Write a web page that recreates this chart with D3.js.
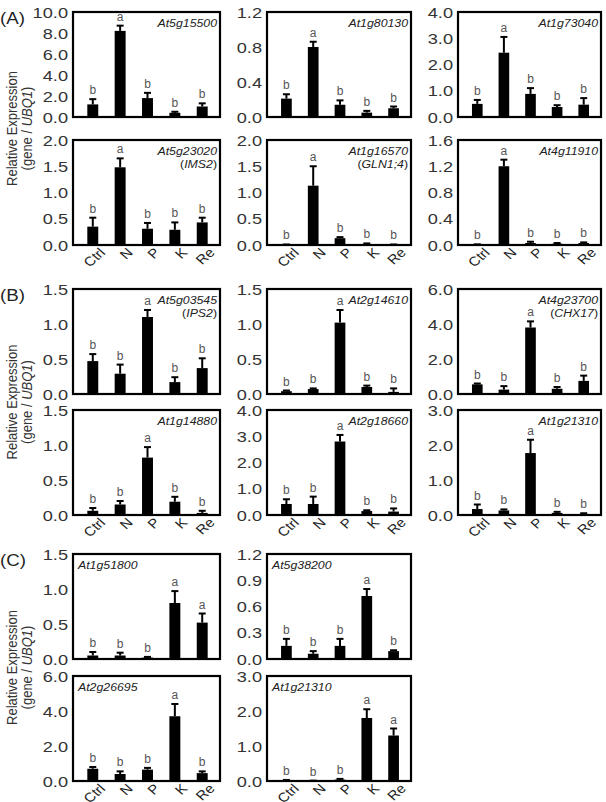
<!DOCTYPE html>
<html>
<head>
<meta charset="utf-8">
<script src="https://cdn.jsdelivr.net/npm/d3@7"></script>
<style>
  body { margin: 0; background: #fff; }
  text { font-family: "Liberation Sans", Arial, sans-serif; }
</style>
</head>
<body>
<script>
// treatments on the x axis
var categories = ["Ctrl", "N", "P", "K", "Re"];

// one entry per panel, in reading order (A: 6, B: 6, C: 4)
var genes = ["At5g15500", "At1g80130", "At1g73040", "At5g23020", "At1g16570", "At4g11910",
             "At5g03545", "At2g14610", "At4g23700", "At1g14880", "At2g18660", "At1g21310",
             "At1g51800", "At5g38200", "At2g26695", "At1g21310"];
var aliases = ["", "", "", "IMS2", "GLN1;4", "",
               "IPS2", "", "CHX17", "", "", "",
               "", "", "", ""];

var means = [
  [1.2, 8.2, 1.8, 0.4, 1.0],
  [0.21, 0.80, 0.14, 0.05, 0.10],
  [0.50, 2.45, 0.88, 0.38, 0.47],
  [0.35, 1.48, 0.31, 0.29, 0.43],
  [0.01, 1.13, 0.13, 0.02, 0.01],
  [0.01, 1.20, 0.03, 0.02, 0.03],
  [0.47, 0.29, 1.10, 0.17, 0.37],
  [0.04, 0.07, 1.02, 0.10, 0.03],
  [0.55, 0.25, 3.80, 0.30, 0.75],
  [0.06, 0.15, 0.82, 0.19, 0.03],
  [0.42, 0.42, 2.80, 0.15, 0.13],
  [0.17, 0.13, 1.77, 0.06, 0.03],
  [0.05, 0.05, 0.02, 0.80, 0.52],
  [0.15, 0.06, 0.15, 0.72, 0.09],
  [0.70, 0.40, 0.65, 3.70, 0.45],
  [0.02, 0.01, 0.04, 1.80, 1.30]
];
var errors = [
  [0.5, 0.5, 0.5, 0.1, 0.3],
  [0.05, 0.06, 0.05, 0.02, 0.02],
  [0.15, 0.60, 0.22, 0.07, 0.25],
  [0.17, 0.17, 0.11, 0.14, 0.09],
  [0.0, 0.37, 0.02, 0.01, 0.0],
  [0.0, 0.10, 0.02, 0.01, 0.01],
  [0.10, 0.13, 0.10, 0.07, 0.14],
  [0.01, 0.01, 0.18, 0.02, 0.05],
  [0.05, 0.20, 0.35, 0.10, 0.30],
  [0.04, 0.05, 0.15, 0.07, 0.03],
  [0.18, 0.28, 0.25, 0.03, 0.12],
  [0.13, 0.03, 0.38, 0.03, 0.02],
  [0.05, 0.04, 0.01, 0.17, 0.13],
  [0.08, 0.03, 0.08, 0.08, 0.01],
  [0.10, 0.15, 0.10, 0.70, 0.10],
  [0.01, 0.0, 0.02, 0.25, 0.20]
];
var letters = [
  "babbb", "babbb", "babbb", "babbb", "babbb", "babbb",
  "bbabb", "bbabb", "bbabb", "bbabb", "bbabb", "bbabb",
  "bbbaa", "bbbab", "bbbab", "bbbaa"
];
var yMax  = [10, 1.2, 4, 2, 2, 1.6,  1.5, 1.5, 6, 1.5, 4, 3,  1.5, 1.2, 6, 3];
var yStep = [2, 0.4, 1, 0.5, 0.5, 0.4,  0.5, 0.5, 2, 0.5, 1, 1,  0.5, 0.3, 2, 1];
var groupNames = ["(A)", "(B)", "(C)"];

// layout
var colX = [73, 267, 458], colW = [147, 144, 143];
var rowY = [12, 140, 289, 410, 554, 676];
var plotH = 105;
var SX = 1.3;   // the figure is a bit stretched sideways
var fmt = d3.format(".1f");

var svg = d3.select("body").append("svg")
    .attr("width", 606).attr("height", 802);
svg.append("rect").attr("width", 606).attr("height", 802).attr("fill", "#fff");

function panelPos(i) {
  if (i < 12) return {col: i % 3, row: Math.floor(i / 3)};
  var k = i - 12;
  return {col: k % 2, row: 4 + Math.floor(k / 2)};
}

for (var i = 0; i < genes.length; i++) {
  var p = panelPos(i);
  var w = colW[p.col];
  var bottomRow = (p.row % 2 == 1);
  var leftLabel = i >= 12;

  var g = svg.append("g")
      .attr("transform", "translate(" + colX[p.col] + "," + rowY[p.row] + ")");

  var x = d3.scaleBand().domain(categories).range([2, w]).paddingInner(0.6).paddingOuter(0.45);
  var y = d3.scaleLinear().domain([0, yMax[i]]).range([plotH, 0]);

  var rows = categories.map(function(c, j) {
    return {cat: c, v: means[i][j], e: errors[i][j], l: letters[i][j]};
  });

  // y axis
  var ax = g.append("g")
      .call(d3.axisLeft(y).tickValues(d3.range(0, yMax[i] + 1e-9, yStep[i])).tickSize(0).tickFormat(fmt));
  ax.select(".domain").remove();
  ax.selectAll("text")
      .attr("x", null).attr("dy", null)
      .attr("transform", "translate(-5,0) scale(" + SX + ",1)")
      .attr("dominant-baseline", "central")
      .style("font-family", "'Liberation Sans', Arial, sans-serif")
      .style("font-size", "14px")
      .style("fill", "#333");

  // bars
  g.selectAll(".bar").data(rows).enter().append("rect")
      .attr("x", function(d) { return x(d.cat); })
      .attr("width", x.bandwidth())
      .attr("y", function(d) { return y(d.v); })
      .attr("height", function(d) { return plotH - y(d.v); })
      .attr("fill", "#000");

  // error bars (upper only)
  g.selectAll(".err").data(rows).enter().append("line")
      .attr("x1", function(d) { return x(d.cat) + x.bandwidth() / 2; })
      .attr("x2", function(d) { return x(d.cat) + x.bandwidth() / 2; })
      .attr("y1", function(d) { return y(d.v); })
      .attr("y2", function(d) { return y(d.v + d.e); })
      .attr("stroke", "#000").attr("stroke-width", 2);
  g.selectAll(".cap").data(rows).enter().append("line")
      .attr("x1", function(d) { return x(d.cat) + x.bandwidth() / 2 - 3.5; })
      .attr("x2", function(d) { return x(d.cat) + x.bandwidth() / 2 + 3.5; })
      .attr("y1", function(d) { return y(d.v + d.e); })
      .attr("y2", function(d) { return y(d.v + d.e); })
      .attr("stroke", "#000").attr("stroke-width", 2);

  // significance letters
  g.selectAll(".sig").data(rows).enter().append("text")
      .attr("x", function(d) { return x(d.cat) + x.bandwidth() / 2; })
      .attr("y", function(d) { return y(d.v + d.e) - 5; })
      .attr("text-anchor", "middle")
      .style("font-size", "12px")
      .style("fill", "#555")
      .text(function(d) { return d.l; });

  // frame
  g.append("rect")
      .attr("width", w).attr("height", plotH)
      .attr("fill", "none").attr("stroke", "#000").attr("stroke-width", 2.2);

  // gene name
  var gx = leftLabel ? 5 : w - 3;
  var anchor = leftLabel ? "start" : "end";
  g.append("text")
      .attr("transform", "translate(" + gx + ",14.5) scale(1.12,1)")
      .attr("text-anchor", anchor)
      .style("font-size", "11px").style("font-style", "italic").style("fill", "#222")
      .text(genes[i]);
  if (aliases[i]) {
    var t = g.append("text")
        .attr("transform", "translate(" + gx + ",28) scale(1.12,1)")
        .attr("text-anchor", anchor)
        .style("font-size", "11px").style("fill", "#222");
    t.append("tspan").text("(");
    t.append("tspan").style("font-style", "italic").text(aliases[i]);
    t.append("tspan").text(")");
  }

  // category labels under the lower row of each group
  if (bottomRow) {
    g.selectAll(".xl").data(categories).enter().append("text")
        .attr("transform", function(c) {
          return "translate(" + (x(c) + x.bandwidth() / 2 + 6) + "," + (plotH + 2) + ") scale(1.15,1) rotate(-45)";
        })
        .attr("text-anchor", "end")
        .attr("dy", "0.7em")
        .style("font-size", "13px")
        .style("fill", "#222")
        .text(function(c) { return c; });
  }
}

// group letters and y titles
for (var k = 0; k < 3; k++) {
  var gTop = rowY[2 * k], gBot = rowY[2 * k + 1] + plotH;
  svg.append("text")
      .attr("transform", "translate(0," + (gTop + 12) + ") scale(1.1,1)")
      .style("font-size", "17px").style("fill", "#222")
      .text(groupNames[k]);

  var cy = (gTop + gBot) / 2;
  var yt = svg.append("g").attr("transform", "translate(0," + cy + ")");
  yt.append("text")
      .attr("transform", "translate(17,0) scale(1.1,1) rotate(-90)")
      .attr("text-anchor", "middle")
      .style("font-size", "13px").style("fill", "#333")
      .text("Relative Expression");
  var t2 = yt.append("text")
      .attr("transform", "translate(32,0) scale(1.1,1) rotate(-90)")
      .attr("text-anchor", "middle")
      .style("font-size", "13px").style("fill", "#333");
  t2.append("tspan").text("(gene / ");
  t2.append("tspan").style("font-style", "italic").text("UBQ1");
  t2.append("tspan").text(")");
}
</script>
</body>
</html>
